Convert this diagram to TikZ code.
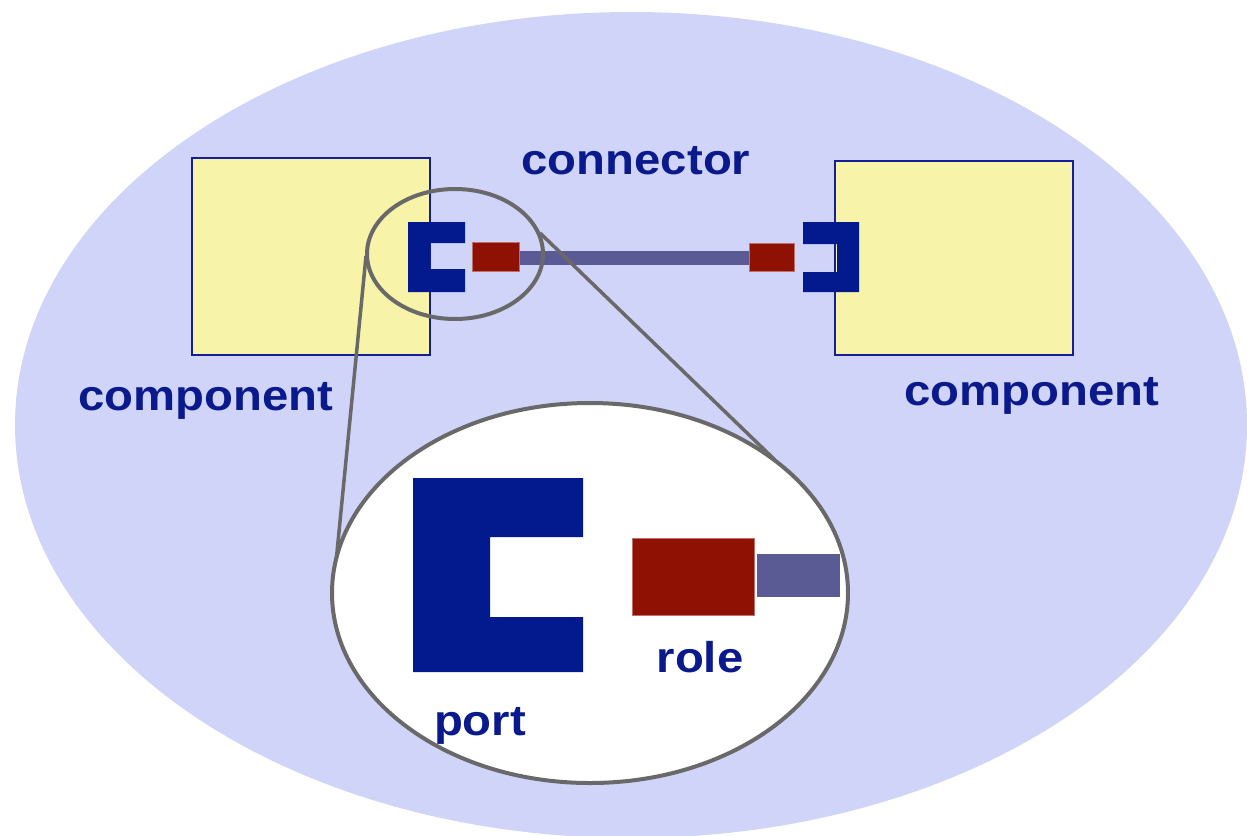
\documentclass[tikz,border=0pt]{standalone}
\usepackage{fontspec}
\setmainfont{Liberation Sans}
\usetikzlibrary{shapes.geometric}
\definecolor{bgblue}{RGB}{208,212,248}
\definecolor{compyellow}{RGB}{247,243,168}
\definecolor{compedge}{RGB}{20,30,150}
\definecolor{portblue}{RGB}{3,26,143}
\definecolor{rolered}{RGB}{143,17,4}
\definecolor{connbar}{RGB}{90,90,148}
\definecolor{lensgray}{RGB}{105,105,105}
\definecolor{textblue}{RGB}{10,25,140}
\tikzset{
  compbox/.style={draw=compedge, line width=1.5pt, fill=compyellow, inner sep=0pt},
  rolebox/.style={fill=rolered, draw=rolered!60!white, line width=0.5pt, inner sep=0pt},
  barbox/.style={fill=connbar, inner sep=0pt},
  lens/.style={ellipse, draw=lensgray, line width=4pt, inner sep=0pt},
  lensline/.style={draw=lensgray, line width=3.5pt},
  portfill/.style={fill=portblue},
  lbl/.style={text=textblue, font=\fontsize{43}{50}\selectfont\bfseries, anchor=base, inner sep=0pt}
}
\newcommand{\wide}[1]{\scalebox{1.1}[1]{#1}}
\begin{document}
\begin{tikzpicture}[x=1pt,y=-1pt]
\useasboundingbox (0,0) rectangle (1247,835);
% world
\node[ellipse, fill=bgblue, minimum width=1232pt, minimum height=826pt, inner sep=0pt] (world) at (631,425) {};
% components
\node[compbox, minimum width=238pt, minimum height=197pt] (compL) at (311,256.5) {};
\node[compbox, minimum width=238pt, minimum height=194pt] (compR) at (954,258) {};
% connector bar and roles
\coordinate (barA) at (515,251);
\coordinate (barB) at (752,265);
\fill[connbar] (barA) rectangle (barB);
\node[rolebox, minimum width=47pt, minimum height=29pt] (roleL) at (495.5,256.5) {};
\node[rolebox, minimum width=45pt, minimum height=28pt] (roleR) at (771.5,257) {};
% small ports
\fill[portfill] (408,222) -- (465,222) -- (465,243) -- (430,243) -- (430,269) -- (465,269) -- (465,292) -- (408,292) -- cycle;
\fill[portfill] (859,222) -- (803,222) -- (803,244) -- (837,244) -- (837,272) -- (803,272) -- (803,292) -- (859,292) -- cycle;
% small lens
\node[lens, minimum width=176pt, minimum height=130pt] (lensS) at (455,254) {};
% lens lines
\coordinate (sL) at (366,256);
\coordinate (sR) at (540,233);
\coordinate (bL) at (333,593);
\coordinate (bR) at (775,460);
\draw[lensline] (sL) -- (bL);
\draw[lensline] (sR) -- (bR);
% big lens
\node[lens, fill=white, minimum width=516pt, minimum height=380pt] (lensB) at (590,593) {};
% big port
\fill[portfill] (413,478) -- (583,478) -- (583,537) -- (490,537) -- (490,617) -- (583,617) -- (583,672) -- (413,672) -- cycle;
% big role and bar
\node[rolebox, minimum width=122pt, minimum height=77pt] (roleB) at (693,576.5) {};
\node[barbox, minimum width=83pt, minimum height=43pt] (barBig) at (798.5,575.5) {};
% labels
\node[lbl] (tConn) at (636,174) {\wide{connector}};
\node[lbl] (tCompL) at (205.5,410) {\wide{component}};
\node[lbl] (tCompR) at (1031.5,405) {\wide{component}};
\node[lbl] (tPort) at (480,735) {\wide{port}};
\node[lbl] (tRole) at (700,672) {\wide{role}};
\end{tikzpicture}
\end{document}
